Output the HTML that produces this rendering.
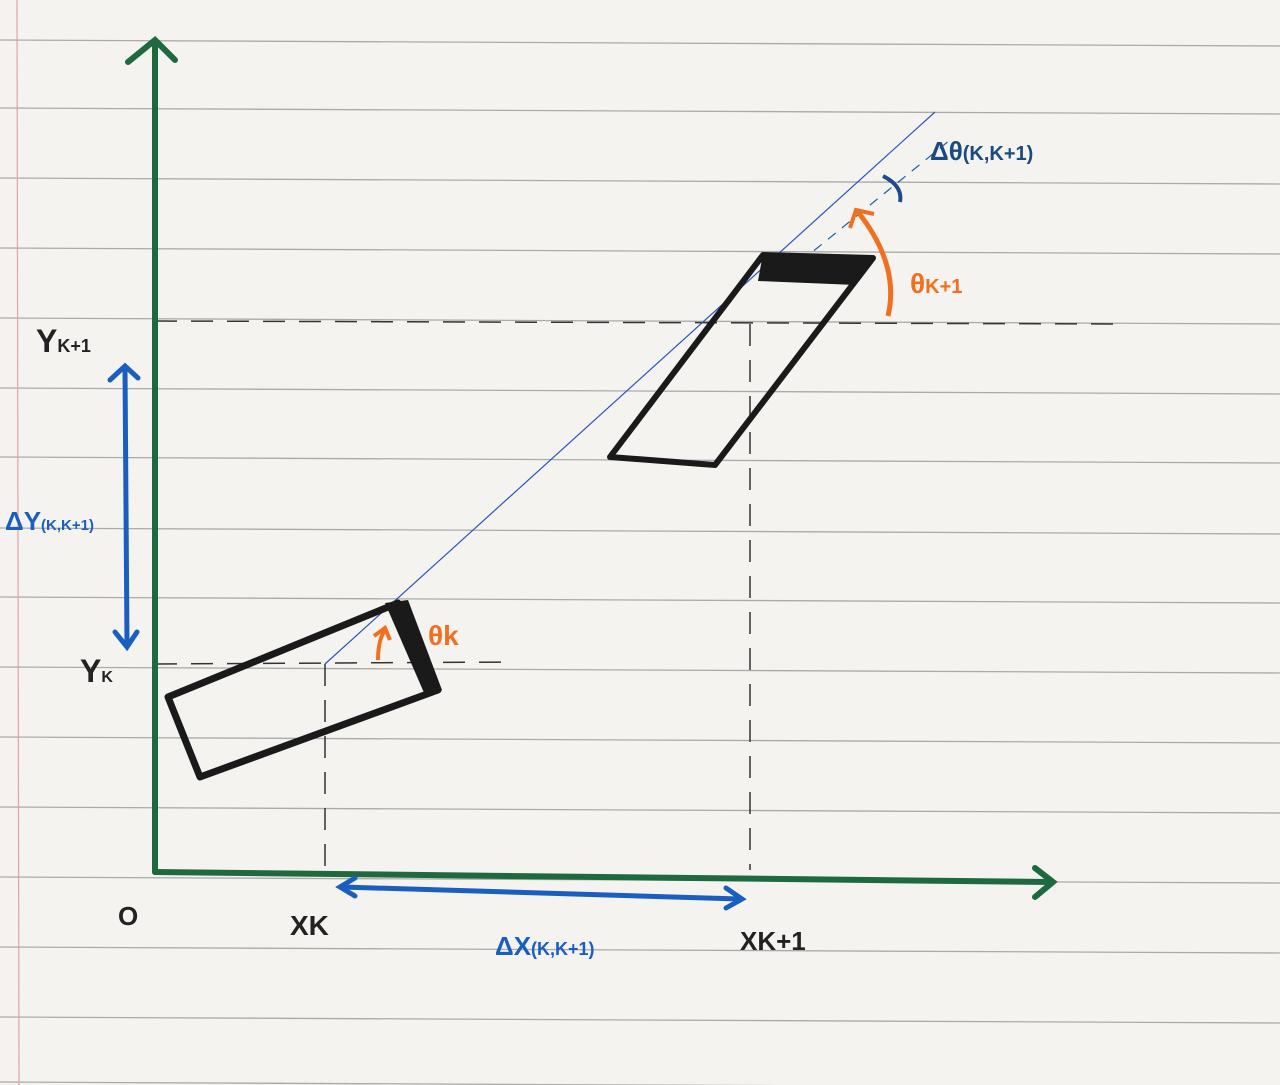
<!DOCTYPE html>
<html><head><meta charset="utf-8">
<style>
html,body{margin:0;padding:0;background:#f4f3f0;}
svg{display:block;}
text{font-family:"Liberation Sans",sans-serif;font-weight:bold;}
</style></head>
<body>
<svg width="1280" height="1085" viewBox="0 0 1280 1085">
<rect width="1280" height="1085" fill="#f4f3f0"/>
<g id="rules" stroke="#8c8c8c" stroke-width="1.3" opacity="0.7"></g>
<line x1="17" y1="0" x2="19" y2="1085" stroke="#e8a0a0" stroke-width="1.2"/>

<g stroke="#333" stroke-width="1.5" stroke-dasharray="22,14" fill="none">
<line x1="155" y1="321" x2="1120" y2="324"/>
<line x1="750" y1="324" x2="750" y2="870"/>
<line x1="155" y1="664" x2="515" y2="662"/>
<line x1="325" y1="664" x2="325" y2="868"/>
</g>
<line x1="800" y1="262" x2="950" y2="140" stroke="#1b5fa8" stroke-width="1.2" stroke-dasharray="10,8"/>
<line x1="325" y1="664" x2="935" y2="112" stroke="#2a55c0" stroke-width="1.2"/>

<g stroke="#1e6a3e" stroke-width="6" fill="none" stroke-linecap="round">
<line x1="155" y1="45" x2="155" y2="872"/>
<polyline points="128,62 155,40 175,60"/>
<line x1="155" y1="872" x2="1050" y2="882"/>
<polyline points="1035,868 1053,882 1035,897"/>
</g>

<g>
<polygon points="168,697 398,603 438,690 200,777" fill="none" stroke="#1a1a1a" stroke-width="7" stroke-linejoin="round"/>
<polygon points="385,603 408,600 442,690 425,695" fill="#1a1a1a"/>
</g>
<g>
<polygon points="763,255 873,258 715,465 610,457" fill="none" stroke="#1a1a1a" stroke-width="6" stroke-linejoin="round"/>
<polygon points="763,253 873,256 856,285 758,281" fill="#1a1a1a"/>
</g>

<g stroke="#1a5fc0" stroke-width="5" fill="none" stroke-linecap="round">
<line x1="125" y1="368" x2="127" y2="645"/>
<polyline points="110,380 125,366 138,378"/>
<polyline points="115,632 127,647 137,632"/>
<line x1="342" y1="887" x2="740" y2="899"/>
<polyline points="355,878 340,887 355,896"/>
<polyline points="726,888 742,899 726,908"/>
</g>
<path d="M378,660 Q378,640 385,630" stroke="#f07020" stroke-width="4" fill="none"/>
<polyline points="374,636 385,628 390,640" stroke="#f07020" stroke-width="4" fill="none"/>
<path d="M888,316 Q900,265 858,212" stroke="#f07020" stroke-width="5" fill="none"/>
<polyline points="850,228 856,210 874,214" stroke="#f07020" stroke-width="4" fill="none"/>
<path d="M883,176 Q903,186 900,202" stroke="#1a4a90" stroke-width="4" fill="none"/>

<text x="36" y="352" font-size="32" fill="#222">Y<tspan font-size="18">K+1</tspan></text>
<text x="5" y="530" font-size="26" fill="#1a5fc0">ΔY<tspan font-size="15">(K,K+1)</tspan></text>
<text x="80" y="682" font-size="32" fill="#222">Y<tspan font-size="16">K</tspan></text>
<text x="118" y="925" font-size="26" fill="#222">O</text>
<text x="290" y="935" font-size="28" fill="#222">XK</text>
<text x="740" y="950" font-size="26" fill="#222">XK+1</text>
<text x="495" y="955" font-size="26" fill="#1a5fc0">ΔX<tspan font-size="18">(K,K+1)</tspan></text>
<text x="428" y="645" font-size="28" fill="#f07020">θk</text>
<text x="910" y="293" font-size="28" fill="#f07020">θ<tspan font-size="20">K+1</tspan></text>
<text x="930" y="160" font-size="26" fill="#1a4a80">Δθ<tspan font-size="20">(K,K+1)</tspan></text>
</svg>
<script>
const ruleYs=[40,108,178,248,318,388,457,528,597,667,737,807,877,947,1017,1082];
const g=document.getElementById('rules');
ruleYs.forEach(y=>{const l=document.createElementNS('http://www.w3.org/2000/svg','line');
l.setAttribute('x1',0);l.setAttribute('y1',y);l.setAttribute('x2',1280);l.setAttribute('y2',y+6);


g.appendChild(l);});
</script>
</body></html>
